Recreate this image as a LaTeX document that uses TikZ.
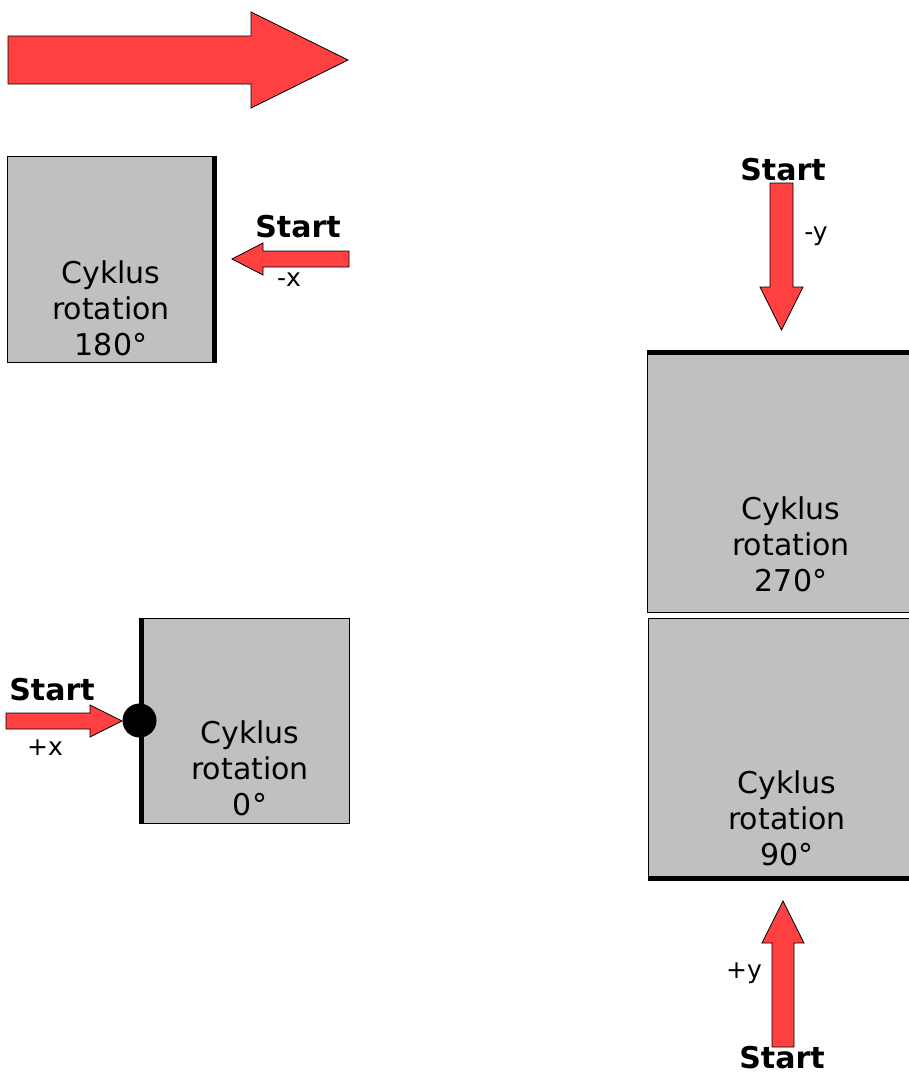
\documentclass[tikz,border=0pt]{standalone}
\usepackage{fontspec}
\setmainfont{DejaVu Sans}
\definecolor{arrowred}{HTML}{FF4040}
\definecolor{boxgray}{HTML}{C0C0C0}

\begin{document}
\begin{tikzpicture}[x=1pt, y=-1pt,
	box/.style = {draw, fill=boxgray, line width=1pt, inner sep=0pt},
	boxtext/.style = {align=center, inner sep=0pt, font=\fontsize{30}{36}\selectfont},
	start/.style = {inner sep=0pt, font=\fontsize{30}{36}\selectfont\bfseries},
	axis/.style = {inner sep=0pt, font=\fontsize{25}{30}\selectfont},
	redarrow/.style = {draw, fill=arrowred, line width=.8pt}]
	\clip (0,0) rectangle (909,1074);
	
	\node[box, minimum width=209, minimum height=206] (B180) at (111.5,259) {};
	\node[box, minimum width=209, minimum height=205] (B0) at (244.5,720.5) {};
	\node[box, minimum width=275, minimum height=261] (B270) at (784.5,481.5) {};
	\node[box, minimum width=274, minimum height=262] (B90) at (785,749) {};
	
	\draw[line width=5pt] ([xshift=-2pt]B180.north east) -- ([xshift=-2pt]B180.south east);
	\draw[line width=5pt] ([xshift=2pt]B0.north west) -- ([xshift=2pt]B0.south west);
	\draw[line width=5pt] ([yshift=-2pt]B270.north west) -- ([yshift=-2pt]B270.north east);
	\draw[line width=5pt] ([yshift=2pt]B90.south west) -- ([yshift=2pt]B90.south east);
	
	\node[boxtext] (T180) at (111,308) {Cyklus\\rotation\\180°};
	\node[boxtext] (T0) at (250,768) {Cyklus\\rotation\\0°};
	\node[boxtext] (T270) at (791,544) {Cyklus\\rotation\\270°};
	\node[boxtext] (T90) at (787,818) {Cyklus\\rotation\\90°};
	
	\draw[redarrow] (8,36) -- (251,36) -- (251,12) -- (348,60) -- (251,108) -- (251,84) -- (8,84) -- cycle;
	\draw[redarrow] (349,251) -- (263,251) -- (263,243) -- (232,259) -- (263,275) -- (263,267) -- (349,267) -- cycle;
	\draw[redarrow] (6,713) -- (90,713) -- (90,705) -- (122,721) -- (90,737) -- (90,729) -- (6,729) -- cycle;
	\draw[redarrow] (770,183) -- (770,287) -- (760,287) -- (781.5,330) -- (803,287) -- (793,287) -- (793,183) -- cycle;
	\draw[redarrow] (772,1047) -- (772,943) -- (762,943) -- (783,901) -- (804,943) -- (794,943) -- (794,1047) -- cycle;
	
	\node[circle, fill, black, minimum size=34, inner sep=0pt] (D) at (B0.west) {};
	
	\node[start] (S180) at (298,227) {Start};
	\node[axis] (A180) at (289,280) {-x};
	\node[start] (S0) at (52,690) {Start};
	\node[axis] (A0) at (45,748) {+x};
	\node[start] (S270) at (783,170) {Start};
	\node[axis] (A270) at (816,236) {-y};
	\node[start] (S90) at (782,1058) {Start};
	\node[axis] (A90) at (744,973) {+y};
\end{tikzpicture}
\end{document}
